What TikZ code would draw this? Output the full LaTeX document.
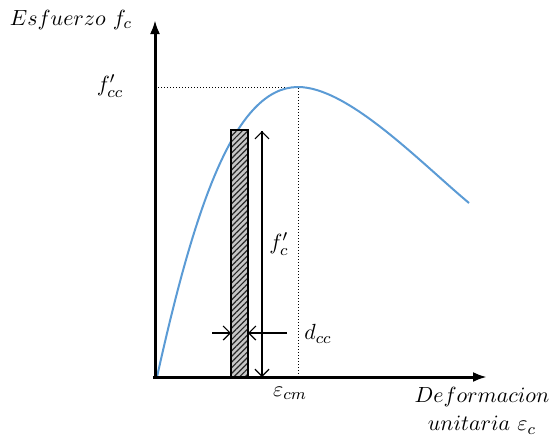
\documentclass[tikz,border=0pt]{standalone}
\usetikzlibrary{arrows.meta,patterns.meta}
\definecolor{curveblue}{RGB}{91,155,213}
\tikzset{
  axis/.style={line width=1.5pt,-{Latex[length=7pt,width=5pt]}},
  guide/.style={densely dotted,line width=0.5pt},
  dimline/.style={line width=0.6pt},
  barb/.style={-{Straight Barb[length=3.5pt,width=7pt]}},
  lbl/.style={inner sep=1pt,font=\fontsize{11}{13}\selectfont},
}
\begin{document}
\begin{tikzpicture}[x=0.5pt,y=-0.5pt]
\useasboundingbox (0,0) rectangle (553,441);
% key points
\coordinate (O) at (155,377);
\coordinate (Ytip) at (155,20);
\coordinate (Xtip) at (487,377);
\coordinate (Xstart) at (153,377);
\coordinate (Peak) at (298,87);
\coordinate (PeakY) at (155,87);
\coordinate (PeakX) at (298,377);
\coordinate (Start) at (157,377);
\coordinate (End) at (469,203);
\coordinate (RectA) at (231,130);
\coordinate (RectB) at (248,377);
\coordinate (DimTop) at (262,131);
\coordinate (DimBot) at (262,377);
\coordinate (LA1) at (212,333);
\coordinate (LA2) at (231,333);
\coordinate (RA1) at (287,333);
\coordinate (RA2) at (248,333);
% guides
\draw[guide] (PeakY) -- (Peak) -- (PeakX);
% curve
\draw[curveblue,line width=1pt] (Start) .. controls (195,205) and (235,87) .. (Peak)
  .. controls (348,87) and (420,162) .. (End);
% hatched bar
\fill[gray!45] (RectA) rectangle (RectB);
\fill[pattern={Lines[angle=45,distance=2pt,line width=0.6pt]},pattern color=black!85] (RectA) rectangle (RectB);
\draw[line width=0.8pt] (RectA) rectangle (RectB);
% dimension arrows
\draw[dimline,barb] (DimBot) -- (DimTop);
\draw[dimline,barb] (DimTop) -- (DimBot);
\draw[dimline,barb] (LA1) -- (LA2);
\draw[dimline,barb] (RA1) -- (RA2);
% axes
\draw[axis] (O) -- (Ytip);
\draw[axis] (Xstart) -- (Xtip);
% labels
\node[lbl] (ylab) at (71,20) {$Esfuerzo\ f_c$};
\node[lbl] (fcc) at (110,86) {$f'_{cc}$};
\node[lbl] (fc) at (279,244) {$f'_{c}$};
\node[lbl] (dcc) at (318,334) {$d_{cc}$};
\node[lbl] (ecm) at (290,393) {$\varepsilon_{cm}$};
\node[lbl,align=center] (xlab) at (482,411) {$Deformacion$\\[1pt]$unitaria\ \varepsilon_c$};
\end{tikzpicture}
\end{document}
